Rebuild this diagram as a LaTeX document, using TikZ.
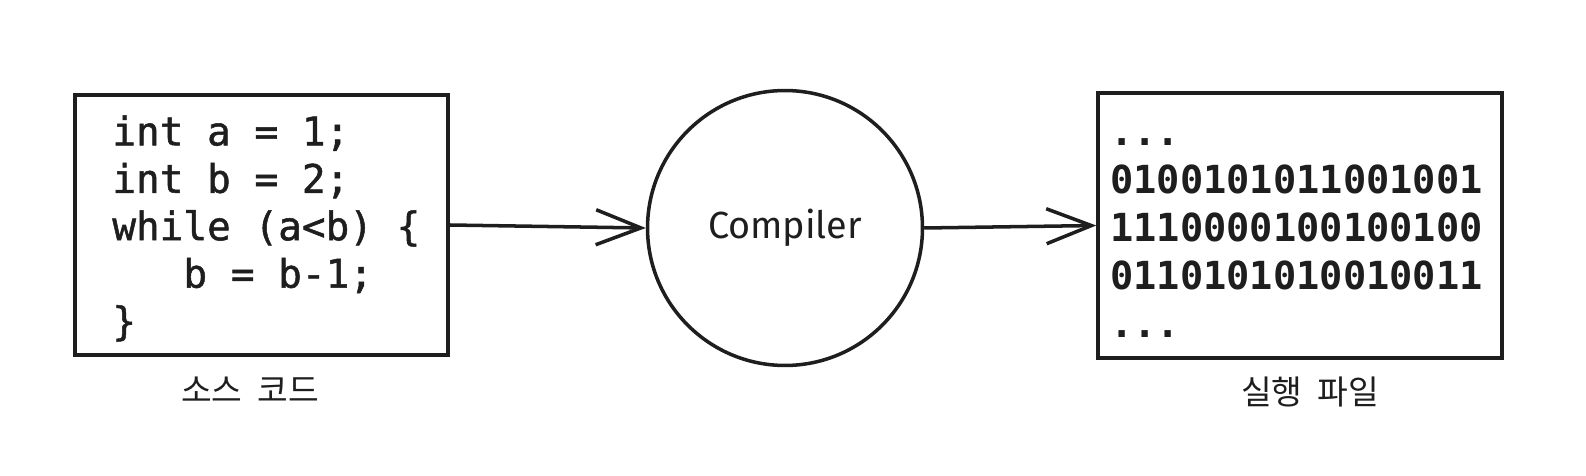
\documentclass[tikz,border=0pt]{standalone}
\usepackage{fontspec}
\setmonofont{DejaVu Sans Mono}
\newfontfamily\codefont{DejaVu Sans Mono}[FakeBold=1.3]
\newfontfamily\kofont{Noto Sans CJK KR}
\newfontfamily\handfont{Fira Sans}
\usetikzlibrary{arrows.meta}
\definecolor{ink}{HTML}{1E1E1E}

\begin{document}
\begin{tikzpicture}[
  x=0.02cm, y=-0.02cm,
  box/.style={rectangle, draw=ink, line width=2pt, inner sep=0pt},
  proc/.style={circle, draw=ink, line width=2pt, inner sep=0pt, minimum size=5.5cm, text=ink, font=\handfont\fontsize{21.5}{24}\selectfont},
  code/.style={anchor=north west, inner sep=0pt, align=left, text=ink, font=\codefont\fontsize{22.4}{27}\selectfont},
  bin/.style={anchor=north west, inner sep=0pt, align=left, text=ink, font=\ttfamily\bfseries\fontsize{22}{27.3}\selectfont},
  caption/.style={text=ink, inner sep=0pt, font=\kofont\fontsize{19}{22}\selectfont},
  flow/.style={draw=ink, line width=2pt, -{Straight Barb[length=9mm, width=7mm]}}
]
  \useasboundingbox (0,0) rectangle (1586,476);

  % Cajas
  \node[box, minimum width=7.46cm, minimum height=5.2cm] (srcbox) at (261.5,225) {};
  \node[proc] (compiler) at (785,228) {Compiler};
  \node[box, minimum width=8.08cm, minimum height=5.3cm] (binbox) at (1300,225.5) {};

  % Textos
  \node[code] (srccode) at (112,111.8) {\strut int a = 1;\\int b = 2;\\while (a<b) \{\\\ \ \ b = b-1;\\\}};
  \node[bin] (bincode) at (1110,111.4) {\strut...\\0100101011001001\\1110000100100100\\0110101010010011\\...};
  \node[caption] (srclabel) at (250,390) {소스\ \ 코드};
  \node[caption] (binlabel) at (1310,392) {실행\ \ 파일};

  % Flechas
  \draw[flow] (srcbox.east) -- (compiler.west);
  \draw[flow] (compiler.east) -- (binbox.west);
\end{tikzpicture}
\end{document}
